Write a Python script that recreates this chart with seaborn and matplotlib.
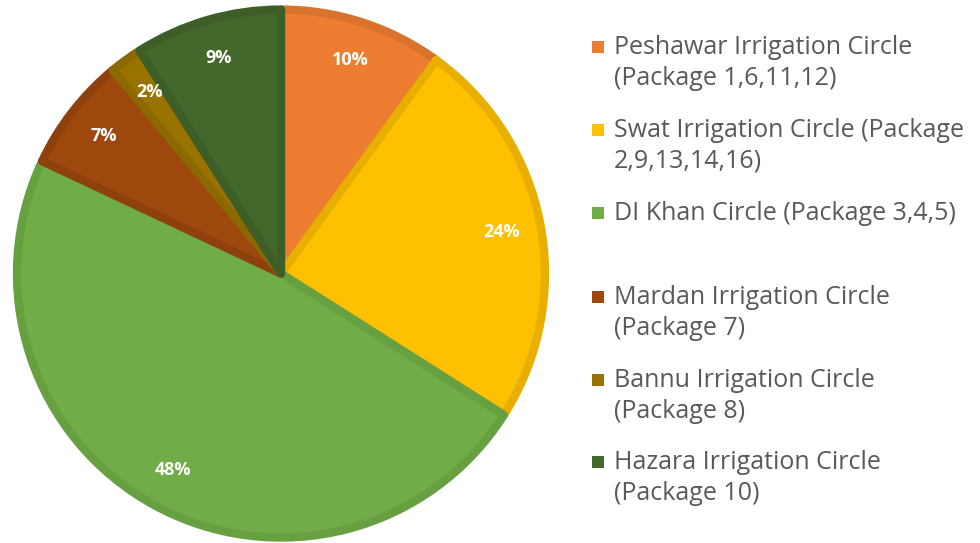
import matplotlib.pyplot as plt
import seaborn as sns
from matplotlib.patches import Rectangle

sns.set_theme(style="white")
plt.rcParams['font.family'] = ['Open Sans', 'DejaVu Sans']

labels = [
    "Peshawar Irrigation Circle\n(Package 1,6,11,12)",
    "Swat Irrigation Circle (Package\n2,9,13,14,16)",
    "DI Khan Circle (Package 3,4,5)",
    "Mardan Irrigation Circle\n(Package 7)",
    "Bannu Irrigation Circle\n(Package 8)",
    "Hazara Irrigation Circle\n(Package 10)",
]
shares = [10, 24, 48, 7, 2, 9]
colors = ["#ED7D31", "#FFC000", "#70AD47", "#9E480E", "#997300", "#43682B"]
edges = ["#D9722D", "#E8AE00", "#66A041", "#8F410D", "#8B6900", "#3D5F27"]

fig = plt.figure(figsize=(9.8, 5.43), dpi=100)
ax = fig.add_axes([7 / 980, 0, 548 / 980, 543 / 543])

wedges, texts, autotexts = ax.pie(
    shares, colors=colors, startangle=90, counterclock=False,
    autopct='%1.0f%%', pctdistance=0.85, radius=0.965,
    wedgeprops=dict(linewidth=6),
    textprops=dict(color="white", fontsize=13, fontweight="bold"),
)
for w, ec in zip(wedges, edges):
    w.set_edgecolor(ec)
    w.set_joinstyle('round')
ax.set_xlim(-1.0, 1.0)
ax.set_ylim(-0.985, 1.0)
ax.set_aspect('equal')

# legend drawn manually so the marker sits on the first line
ys = [47, 130, 213, 297, 380, 462]
for lab, c, y in zip(labels, colors, ys):
    fig.patches.append(Rectangle((592 / 980, 1 - (y + 6) / 543), 12 / 980, 12 / 543,
                                 transform=fig.transFigure, facecolor=c, edgecolor='none'))
    fig.text(614 / 980, 1 - (y - 12) / 543, lab, va='top', ha='left',
             fontsize=18, color="#595959", linespacing=1.3)

fig.savefig("out.png", dpi=100)
